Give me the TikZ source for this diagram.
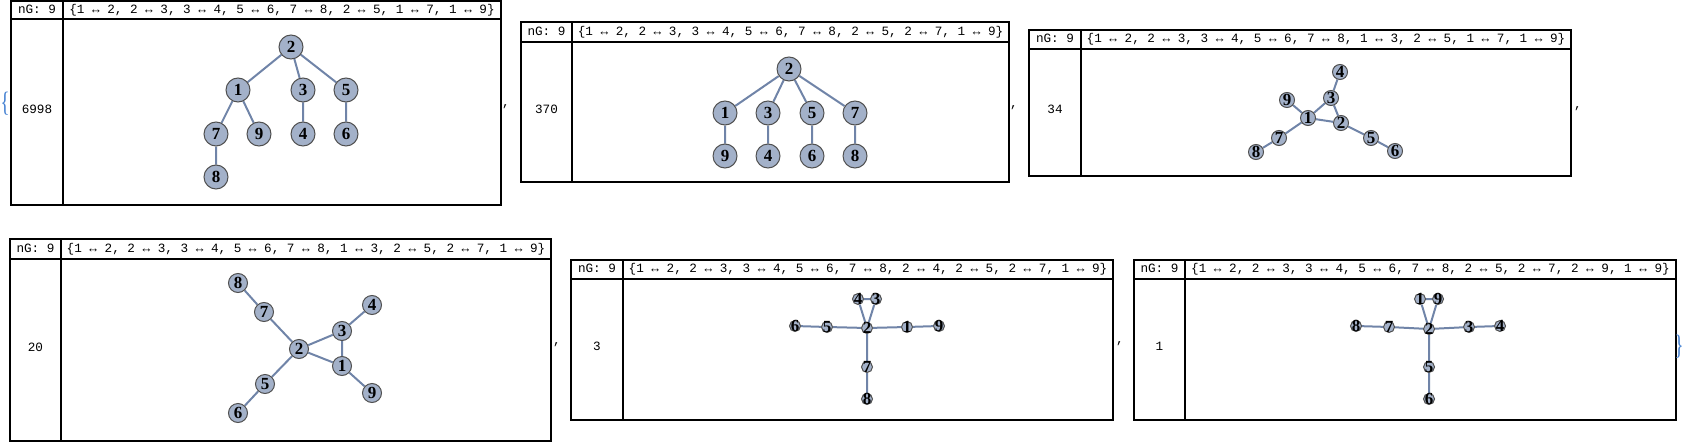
\documentclass[tikz,border=0pt]{standalone}
\usepackage{graphicx}
\usepackage{fontspec}
\setmainfont{Liberation Serif}
\newfontfamily\monof{Liberation Mono}
\definecolor{vfill}{RGB}{163,177,201}
\definecolor{vline}{RGB}{80,80,80}
\definecolor{ecol}{RGB}{112,132,168}
\definecolor{bracec}{RGB}{70,130,210}
\pgfdeclarelayer{bg}
\pgfsetlayers{bg,main}
\tikzset{
  frame/.style={line width=0.55pt, draw=black},
  mono/.style={font=\monof\fontsize{6.33}{7}\selectfont, inner sep=0pt, text height=4.4pt, text depth=1.2pt},
  vtx/.style={circle, draw=vline, fill=vfill, line width=0.5pt, inner sep=0pt, minimum size=#1, font=\bfseries\fontsize{8.5}{8.5}\selectfont},
  edge/.style={draw=ecol, line width=1pt},
  punct/.style={font=\monof\fontsize{6.33}{7}\selectfont, inner sep=0pt, anchor=base},
  brace/.style={font=\fontsize{14}{14}\selectfont, text=bracec, inner sep=0pt},
}
\newcommand\vl[1]{\makebox[0pt]{\smash{\raisebox{-0.34em}{#1}}}}
% #1 id, #2 L, #3 T, #4 R, #5 B, #6 header bottom, #7 divider, #8 number, #9 edge list
\newcommand\gtab[9]{%
  \draw[frame] (#2,#3) rectangle (#4,#5);
  \draw[frame] (#2,#6) -- (#4,#6);
  \draw[frame] (#7,#3) -- (#7,#5);
  \node[mono] (#1ng) at ({(#2+#7)/2},{(#3+#6)/2}) {nG: 9};
  \node[mono] (#1el) at ({(#7+#4)/2},{(#3+#6)/2}) {#9};
  \node[mono] (#1num) at ({(#2+#7)/2},{(#6+#5)/2-2}) {#8};
}
\begin{document}
\begin{tikzpicture}[x=0.5pt, y=-0.5pt]
\useasboundingbox (0,0) rectangle (1684,444);

% ---------- Table 1
\gtab{a}{11}{1}{501}{205}{19}{63}{6998}{\{1 ↔ 2, 2 ↔ 3, 3 ↔ 4, 5 ↔ 6, 7 ↔ 8, 2 ↔ 5, 1 ↔ 7, 1 ↔ 9\}}
\node[vtx=12pt] (a2) at (291,47) {\vl2};
\node[vtx=12pt] (a1) at (238,90) {\vl1};
\node[vtx=12pt] (a3) at (303,90) {\vl3};
\node[vtx=12pt] (a5) at (346,90) {\vl5};
\node[vtx=12pt] (a7) at (216,134) {\vl7};
\node[vtx=12pt] (a9) at (259,134) {\vl9};
\node[vtx=12pt] (a4) at (303,134) {\vl4};
\node[vtx=12pt] (a6) at (346,134) {\vl6};
\node[vtx=12pt] (a8) at (216,177) {\vl8};

% ---------- Table 2
\gtab{b}{521}{22}{1009}{182}{42}{572}{370}{\{1 ↔ 2, 2 ↔ 3, 3 ↔ 4, 5 ↔ 6, 7 ↔ 8, 2 ↔ 5, 2 ↔ 7, 1 ↔ 9\}}
\node[vtx=12pt] (b2) at (789,69) {\vl2};
\node[vtx=12pt] (b1) at (725,113) {\vl1};
\node[vtx=12pt] (b3) at (768,113) {\vl3};
\node[vtx=12pt] (b5) at (812,113) {\vl5};
\node[vtx=12pt] (b7) at (855,113) {\vl7};
\node[vtx=12pt] (b9) at (725,156) {\vl9};
\node[vtx=12pt] (b4) at (768,156) {\vl4};
\node[vtx=12pt] (b6) at (812,156) {\vl6};
\node[vtx=12pt] (b8) at (855,156) {\vl8};

% ---------- Table 3
\gtab{c}{1029}{30}{1571}{176}{49}{1081}{34}{\{1 ↔ 2, 2 ↔ 3, 3 ↔ 4, 5 ↔ 6, 7 ↔ 8, 1 ↔ 3, 2 ↔ 5, 1 ↔ 7, 1 ↔ 9\}}
\node[vtx=7.5pt] (c4) at (1340,72) {\vl4};
\node[vtx=7.5pt] (c9) at (1287,100) {\vl9};
\node[vtx=7.5pt] (c3) at (1331,98) {\vl3};
\node[vtx=7.5pt] (c1) at (1308,118) {\vl1};
\node[vtx=7.5pt] (c2) at (1341,123) {\vl2};
\node[vtx=7.5pt] (c7) at (1279,138) {\vl7};
\node[vtx=7.5pt] (c8) at (1256,152) {\vl8};
\node[vtx=7.5pt] (c5) at (1371,138) {\vl5};
\node[vtx=7.5pt] (c6) at (1395,151) {\vl6};

% ---------- Table 4
\gtab{d}{10}{239}{551}{441}{259}{61}{20}{\{1 ↔ 2, 2 ↔ 3, 3 ↔ 4, 5 ↔ 6, 7 ↔ 8, 1 ↔ 3, 2 ↔ 5, 2 ↔ 7, 1 ↔ 9\}}
\node[vtx=9.5pt] (d8) at (238,283) {\vl8};
\node[vtx=9.5pt] (d7) at (264,312) {\vl7};
\node[vtx=9.5pt] (d4) at (372,305) {\vl4};
\node[vtx=9.5pt] (d3) at (342,331) {\vl3};
\node[vtx=9.5pt] (d2) at (299,349) {\vl2};
\node[vtx=9.5pt] (d1) at (342,366) {\vl1};
\node[vtx=9.5pt] (d9) at (372,393) {\vl9};
\node[vtx=9.5pt] (d5) at (265,384) {\vl5};
\node[vtx=9.5pt] (d6) at (238,413) {\vl6};

% ---------- Table 5
\gtab{e}{571}{260}{1113}{420}{279}{623}{3}{\{1 ↔ 2, 2 ↔ 3, 3 ↔ 4, 5 ↔ 6, 7 ↔ 8, 2 ↔ 4, 2 ↔ 5, 2 ↔ 7, 1 ↔ 9\}}
\node[vtx=5.5pt] (e4) at (858,299) {\vl4};
\node[vtx=5.5pt] (e3) at (876,299) {\vl3};
\node[vtx=5.5pt] (e6) at (795,326) {\vl6};
\node[vtx=5.5pt] (e5) at (827,327) {\vl5};
\node[vtx=5.5pt] (e2) at (867,328) {\vl2};
\node[vtx=5.5pt] (e1) at (907,327) {\vl1};
\node[vtx=5.5pt] (e9) at (939,326) {\vl9};
\node[vtx=5.5pt] (e7) at (867,367) {\vl7};
\node[vtx=5.5pt] (e8) at (867,399) {\vl8};

% ---------- Table 6
\gtab{f}{1134}{260}{1676}{420}{279}{1185}{1}{\{1 ↔ 2, 2 ↔ 3, 3 ↔ 4, 5 ↔ 6, 7 ↔ 8, 2 ↔ 5, 2 ↔ 7, 2 ↔ 9, 1 ↔ 9\}}
\node[vtx=5.5pt] (f1) at (1420,299) {\vl1};
\node[vtx=5.5pt] (f9) at (1438,299) {\vl9};
\node[vtx=5.5pt] (f8) at (1356,326) {\vl8};
\node[vtx=5.5pt] (f7) at (1389,327) {\vl7};
\node[vtx=5.5pt] (f2) at (1429,329) {\vl2};
\node[vtx=5.5pt] (f3) at (1469,327) {\vl3};
\node[vtx=5.5pt] (f4) at (1500,326) {\vl4};
\node[vtx=5.5pt] (f5) at (1429,367) {\vl5};
\node[vtx=5.5pt] (f6) at (1429,399) {\vl6};

\begin{pgfonlayer}{bg}
\draw[edge] (a1)--(a2) (a2)--(a3) (a3)--(a4) (a5)--(a6) (a7)--(a8) (a2)--(a5) (a1)--(a7) (a1)--(a9);
\draw[edge] (b1)--(b2) (b2)--(b3) (b3)--(b4) (b5)--(b6) (b7)--(b8) (b2)--(b5) (b2)--(b7) (b1)--(b9);
\draw[edge] (c1)--(c2) (c2)--(c3) (c3)--(c4) (c5)--(c6) (c7)--(c8) (c1)--(c3) (c2)--(c5) (c1)--(c7) (c1)--(c9);
\draw[edge] (d1)--(d2) (d2)--(d3) (d3)--(d4) (d5)--(d6) (d7)--(d8) (d1)--(d3) (d2)--(d5) (d2)--(d7) (d1)--(d9);
\draw[edge] (e1)--(e2) (e2)--(e3) (e3)--(e4) (e5)--(e6) (e7)--(e8) (e2)--(e4) (e2)--(e5) (e2)--(e7) (e1)--(e9);
\draw[edge] (f1)--(f2) (f2)--(f3) (f3)--(f4) (f5)--(f6) (f7)--(f8) (f2)--(f5) (f2)--(f7) (f2)--(f9) (f1)--(f9);
\end{pgfonlayer}

% ---------- list punctuation
\node[brace] (lbr) at (5,104) {\scalebox{0.7}[1]{\{}};
\node[brace] (rbr) at (1679,347) {\scalebox{0.7}[1]{\}}};
\node[punct] (c1p) at (506,106) {,};
\node[punct] (c2p) at (1014,107) {,};
\node[punct] (c3p) at (1578,108) {,};
\node[punct] (c4p) at (557,344) {,};
\node[punct] (c5p) at (1120,343) {,};
\end{tikzpicture}
\end{document}
